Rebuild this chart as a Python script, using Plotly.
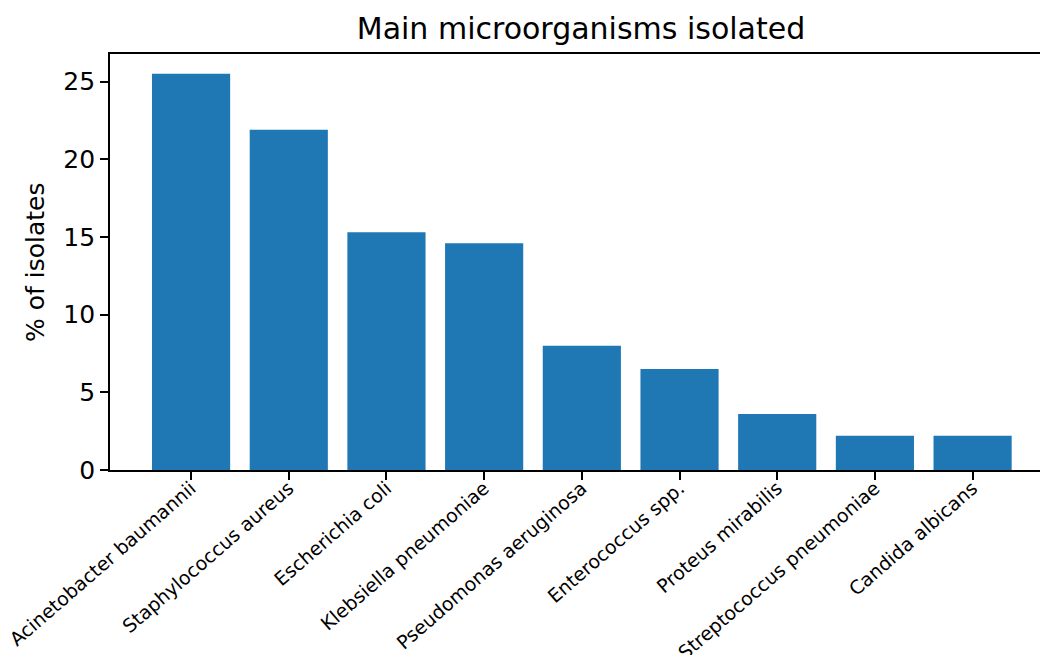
import plotly.graph_objects as go

# Share of isolates by microorganism
organisms = [
    "Acinetobacter baumannii",
    "Staphylococcus aureus",
    "Escherichia coli",
    "Klebsiella pneumoniae",
    "Pseudomonas aeruginosa",
    "Enterococcus spp.",
    "Proteus mirabilis",
    "Streptococcus pneumoniae",
    "Candida albicans",
]
percent_isolates = [25.5, 21.9, 15.3, 14.6, 8.0, 6.5, 3.6, 2.2, 2.2]
y_ticks = [0, 5, 10, 15, 20, 25]

FONT = "DejaVu Sans"
INK = "#000000"
positions = list(range(len(organisms)))

fig = go.Figure(
    go.Bar(
        x=positions,
        y=percent_isolates,
        width=0.8,
        marker=dict(color="#1f77b4", line=dict(width=0)),
        hoverinfo="skip",
    )
)

fig.update_layout(
    width=1040,
    height=655,
    margin=dict(l=110, r=0, t=54, b=184.5, autoexpand=False),
    paper_bgcolor="white",
    plot_bgcolor="white",
    showlegend=False,
    font=dict(family=FONT, color=INK),
    title=dict(
        text="Main microorganisms isolated",
        font=dict(family=FONT, size=30, color=INK),
        xref="container",
        yref="container",
        x=581 / 1040,
        xanchor="center",
        y=1 - 28 / 655,
        yanchor="middle",
    ),
    xaxis=dict(
        range=[-0.83, 8.69],
        tickmode="array",
        tickvals=positions,
        ticktext=organisms,
        tickangle=-41,
        tickfont=dict(family=FONT, size=19, color=INK),
        ticklabelstandoff=-10,
        ticks="outside",
        ticklen=8,
        tickwidth=1.8,
        tickcolor=INK,
        showline=True,
        linecolor=INK,
        linewidth=1.8,
        mirror=True,
        showgrid=False,
        zeroline=False,
        automargin=False,
        fixedrange=True,
    ),
    yaxis=dict(
        range=[0, 26.775],
        tickmode="array",
        tickvals=y_ticks,
        ticktext=[str(v) for v in y_ticks],
        tickfont=dict(family=FONT, size=25, color=INK),
        ticks="outside",
        ticklen=8,
        tickwidth=1.8,
        tickcolor=INK,
        showline=True,
        linecolor=INK,
        linewidth=1.8,
        mirror=False,
        showgrid=False,
        zeroline=False,
        automargin=False,
        fixedrange=True,
    ),
    annotations=[
        dict(
            text="% of isolates",
            xref="paper",
            yref="paper",
            x=0,
            y=0.5,
            xshift=-75,
            textangle=-90,
            showarrow=False,
            font=dict(family=FONT, size=25, color=INK),
            xanchor="center",
            yanchor="middle",
        )
    ],
)

fig.write_html("out.html", config={"displayModeBar": False})
